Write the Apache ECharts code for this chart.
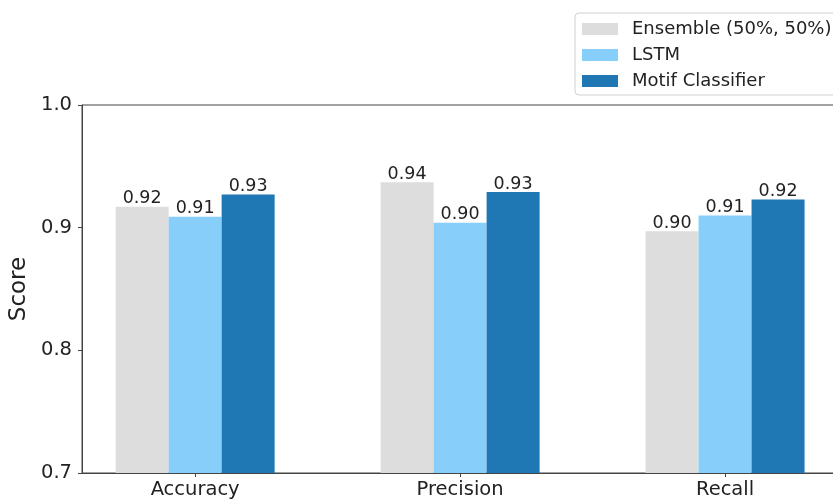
<!DOCTYPE html>
<html>
<head>
<meta charset="utf-8">
<script src="https://cdn.jsdelivr.net/npm/echarts@6/dist/echarts.min.js"></script>
<style>
  html, body { margin: 0; padding: 0; background: #fff; }
  #chart { width: 833px; height: 499px; }
</style>
</head>
<body>
<div id="chart"></div>
<script>
// Metric categories along the x axis
const categories = ['Accuracy', 'Precision', 'Recall'];
const seriesNames = ['Ensemble (50%, 50%)', 'LSTM', 'Motif Classifier'];
// Scores for each model per metric
const ensembleScores = [0.917, 0.937, 0.897];
const lstmScores = [0.909, 0.904, 0.910];
const motifScores = [0.927, 0.929, 0.923];
const yTicks = [0.7, 0.8, 0.9, 1.0];

const colors = ['#dddddd', '#87cefa', '#1f77b4'];
const font = 'DejaVu Sans';
const positions = categories.map((_, i) => i);

function makeSeries(name, values, color) {
  return {
    name: name,
    type: 'bar',
    barWidth: 53,
    barGap: '0%',
    itemStyle: { color: color },
    label: {
      show: true,
      position: 'top',
      distance: -1,
      fontFamily: font,
      fontSize: 17.5,
      color: '#222',
      formatter: p => p.value[1].toFixed(2)
    },
    data: values.map((v, i) => [positions[i], v])
  };
}

const chart = echarts.init(document.getElementById('chart'), null, { renderer: 'canvas' });
chart.setOption({
  animation: false,
  backgroundColor: '#fff',
  grid: {
    left: 82, top: 105, right: -6, bottom: 26,
    outerBoundsMode: 'none',
    containLabel: false,
    show: true, borderColor: '#444', borderWidth: 1, backgroundColor: 'transparent'
  },
  legend: {
    orient: 'vertical',
    left: 575,
    top: 13,
    padding: [7, 40, 5, 7],
    itemWidth: 36,
    itemHeight: 12,
    itemGap: 8,
    borderColor: '#d0d0d0',
    borderWidth: 1,
    borderRadius: 4,
    backgroundColor: '#fff',
    icon: 'rect',
    textStyle: { fontFamily: font, fontSize: 18, color: '#222', padding: [0, 0, 0, 9] },
    data: seriesNames
  },
  xAxis: {
    type: 'value',
    min: -0.427,
    max: 2.43,
    splitLine: { show: false },
    axisLine: { show: true, onZero: false, lineStyle: { color: '#444', width: 1 } },
    axisTick: { show: true, customValues: positions, length: 4, lineStyle: { color: '#444' } },
    axisLabel: {
      customValues: positions,
      formatter: v => categories[Math.round(v)] || '',
      fontFamily: font, fontSize: 19.5, color: '#222', margin: 7
    }
  },
  yAxis: {
    type: 'value',
    min: yTicks[0],
    max: yTicks[yTicks.length - 1],
    interval: 0.1,
    name: 'Score',
    nameLocation: 'middle',
    nameGap: 46,
    nameTextStyle: { fontFamily: font, fontSize: 23, color: '#222' },
    splitLine: { show: false },
    axisLine: { show: true, onZero: false, lineStyle: { color: '#444', width: 1 } },
    axisTick: { show: true, length: 4, lineStyle: { color: '#444' } },
    axisLabel: {
      formatter: v => v.toFixed(1),
      fontFamily: font, fontSize: 19.5, color: '#222', margin: 10
    }
  },
  series: [
    makeSeries(seriesNames[0], ensembleScores, colors[0]),
    makeSeries(seriesNames[1], lstmScores, colors[1]),
    makeSeries(seriesNames[2], motifScores, colors[2])
  ]
});
</script>
</body>
</html>
